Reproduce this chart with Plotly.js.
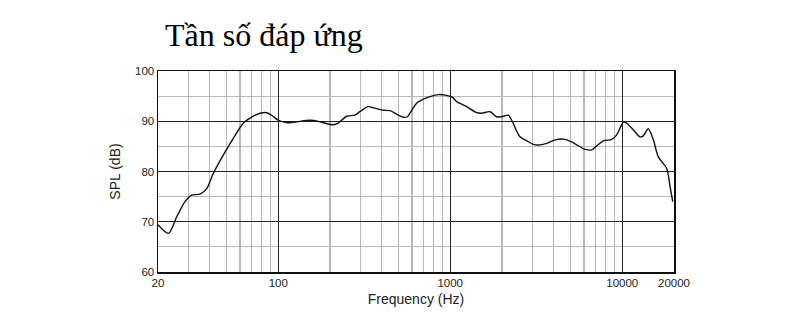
<!DOCTYPE html>
<html>
<head>
<meta charset="utf-8">
<script src="https://cdn.plot.ly/plotly-3.0.1.min.js"></script>
<style>html,body{margin:0;padding:0;background:#fff;}#chart{width:800px;height:323px;}</style>
</head>
<body>
<div id="chart"></div>
<script>
const freqHz = [20, 23, 25.7, 28.7, 31.4, 35.1, 38.4, 41.9, 48, 54.8, 62.7, 71.6, 78.4, 85.7, 91.6, 100, 109.5,
  117, 153, 175, 204.7, 222, 250, 279, 298, 334, 365, 409, 447, 499, 534, 564, 583, 638, 698, 762, 853, 933, 1027,
  1091, 1248, 1426, 1522, 1703, 1862, 1990, 2178, 2278, 2545, 2787, 3044, 3327, 3640, 4074, 4656, 5204, 6083, 6645,
  7106, 7762, 8690, 9290, 10200, 10620, 11590, 12680, 13260, 14180, 15170, 16220, 18140, 18970, 19670];
const splDb = [69.4, 67.7, 71.0, 74.0, 75.3, 75.5, 76.6, 79.6, 83.3, 86.6, 89.6, 91.0, 91.6, 91.7, 91.2, 90.2, 89.8,
  89.7, 90.2, 89.9, 89.3, 89.6, 91.0, 91.2, 91.9, 92.9, 92.6, 92.2, 92.1, 91.2, 90.8, 90.9, 91.6, 93.6, 94.4, 94.9, 95.3, 95.2, 94.8,
  93.9, 92.9, 91.7, 91.6, 91.9, 90.9, 90.9, 91.2, 90.2, 86.9, 86.1, 85.4, 85.3, 85.6, 86.3, 86.4, 85.7, 84.4, 84.3,
  85.1, 86.1, 86.4, 87.3, 89.9, 89.6, 88.3, 86.9, 87.1, 88.5, 86.3, 82.9, 80.6, 77.0, 74.0];
const xTickVals = [20, 100, 1000, 10000, 20000];
const xTickText = ['20', '100', '1000', '10000', '20000'];
const xMinorVals = [30, 40, 50, 60, 70, 80, 90, 200, 300, 400, 500, 600, 700, 800, 900,
  2000, 3000, 4000, 5000, 6000, 7000, 8000, 9000];
const yTickVals = [60, 70, 80, 90, 100];
const yMinorVals = [65, 75, 85, 95];

const trace = {
  x: freqHz, y: splDb, type: 'scatter', mode: 'lines',
  line: {color: '#111', width: 1.4, shape: 'spline', smoothing: 0.8},
  hoverinfo: 'skip'
};
const layout = {
  width: 800, height: 323,
  margin: {l: 158, r: 126, t: 71, b: 51},
  paper_bgcolor: '#fff', plot_bgcolor: '#fff',
  showlegend: false,
  title: {text: 'Tần số đáp ứng', font: {family: 'Liberation Serif, Times New Roman, serif', size: 32, color: '#000'},
    xref: 'container', yref: 'container', x: 165/800, xanchor: 'left', y: 1 - 35/323, yanchor: 'middle'},
  xaxis: {
    type: 'log', range: [Math.log10(20), Math.log10(20000)],
    tickmode: 'array', tickvals: xTickVals, ticktext: xTickText,
    showgrid: true, gridcolor: '#222', gridwidth: 1,
    minor: {tickmode: 'array', tickvals: xMinorVals, showgrid: true, gridcolor: '#b8b8b8', gridwidth: 1.2, ticks: ''},
    showline: true, linecolor: '#111', linewidth: 1.5, mirror: true, ticks: '', zeroline: false,
    tickfont: {family: 'Liberation Sans, Arial, sans-serif', size: 11.5, color: '#222'},
    title: {text: 'Frequency (Hz)', font: {family: 'Liberation Sans, Arial, sans-serif', size: 14, color: '#222'}, standoff: 6}
  },
  yaxis: {
    range: [60, 100], tickmode: 'array', tickvals: yTickVals,
    showgrid: true, gridcolor: '#222', gridwidth: 1,
    minor: {tickmode: 'array', tickvals: yMinorVals, showgrid: true, gridcolor: '#b8b8b8', gridwidth: 1.2, ticks: ''},
    showline: true, linecolor: '#111', linewidth: 1.5, mirror: true, ticks: '', zeroline: false,
    tickfont: {family: 'Liberation Sans, Arial, sans-serif', size: 11.5, color: '#222'},
    title: {text: 'SPL (dB)', font: {family: 'Liberation Sans, Arial, sans-serif', size: 14, color: '#222'}, standoff: 11}
  }
};
Plotly.newPlot('chart', [trace], layout, {staticPlot: true, displayModeBar: false});
</script>
</body>
</html>
